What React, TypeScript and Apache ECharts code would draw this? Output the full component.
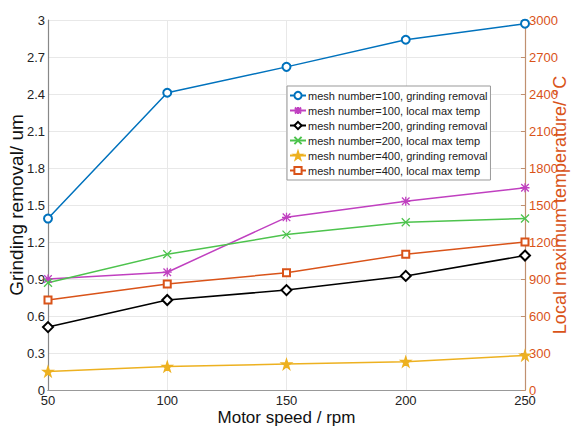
import React, { useEffect, useRef } from "react";
import * as echarts from "echarts";

const speeds = [50, 100, 150, 200, 250];
const removal100 = [1.39, 2.41, 2.62, 2.84, 2.97];
const temp100 = [900, 955, 1400, 1530, 1640];
const removal200 = [0.51, 0.73, 0.81, 0.925, 1.09];
const temp200 = [870, 1100, 1260, 1360, 1390];
const removal400 = [0.15, 0.19, 0.21, 0.23, 0.28];
const temp400 = [730, 860, 950, 1100, 1200];

const seriesNames = [
  "mesh number=100, grinding removal",
  "mesh number=100, local max temp",
  "mesh number=200, grinding removal",
  "mesh number=200, local max temp",
  "mesh number=400, grinding removal",
  "mesh number=400, local max temp",
];

const STAR = "path://M5,0 L6.2,3.6 L10,3.6 L6.9,5.8 L8.1,9.5 L5,7.2 L1.9,9.5 L3.1,5.8 L0,3.6 L3.8,3.6 Z";
const XMARK = "path://M0,0 L10,10 M10,0 L0,10";
const ASTER = "path://M0.8,0.8 L9.2,9.2 M9.2,0.8 L0.8,9.2 M5,0 L5,10 M0,5 L10,5";

export default function App() {
  const ref = useRef<HTMLDivElement>(null);
  useEffect(() => {
    if (!ref.current) return;
    const chart = echarts.init(ref.current, null, { renderer: "svg" });
    const mk = (
      name: string,
      vals: number[],
      color: string,
      symbol: string,
      yAxisIndex: number,
      size = 8
    ) => ({
      name,
      type: "line",
      yAxisIndex,
      data: speeds.map((s, i) => [s, vals[i]]),
      symbol,
      symbolSize: size,
      showAllSymbol: true,
      lineStyle: { color, width: 1.5 },
      itemStyle: { color, borderColor: color, borderWidth: 1.3 },
      emphasis: { disabled: true },
    });
    chart.setOption({
      animation: false,
      backgroundColor: "#fff",
      grid: { left: 48, right: 47, top: 20, bottom: 38, containLabel: false, outerBoundsMode: "none" },
      legend: {
        orient: "vertical",
        left: 287,
        top: 86,
        itemGap: 2,
        itemWidth: 16,
        itemHeight: 9,
        padding: [3, 3, 3, 2],
        borderColor: "#999",
        borderWidth: 1,
        backgroundColor: "#fff",
        textStyle: { fontSize: 11, lineHeight: 13, color: "#222", fontFamily: "Liberation Sans", padding: [0, 0, 0, -3] },
        data: seriesNames,
      },
      xAxis: [
        {
          type: "value",
          min: 50,
          max: 250,
          interval: 50,
          name: "Motor speed / rpm",
          nameLocation: "middle",
          nameGap: 19,
          nameMoveOverlap: false,
          nameTextStyle: { fontSize: 17, color: "#111", fontFamily: "Liberation Sans" },
          axisLine: { show: true, lineStyle: { color: "#888", width: 1 } },
          axisTick: { show: false },
          axisLabel: { fontSize: 13, color: "#222", margin: 4, fontFamily: "Liberation Sans" },
          splitLine: { show: true, lineStyle: { color: "#e8e8e8" } },
        },
        {
          type: "value",
          position: "top",
          min: 50,
          max: 250,
          interval: 50,
          axisLine: { show: true, lineStyle: { color: "#999", width: 1 } },
          axisTick: { show: false },
          axisLabel: { show: false },
          splitLine: { show: false },
        },
      ],
      yAxis: [
        {
          type: "value",
          min: 0,
          max: 3,
          interval: 0.3,
          name: "Grinding removal/ um",
          nameLocation: "middle",
          nameGap: 22,
          nameRotate: 90,
          nameMoveOverlap: false,
          nameTextStyle: { fontSize: 19, color: "#111", fontFamily: "Liberation Sans" },
          axisLine: { show: true, lineStyle: { color: "#888", width: 1.2 } },
          axisTick: { show: false },
          axisLabel: {
            fontSize: 13,
            color: "#222",
            margin: 3,
            fontFamily: "Liberation Sans",
            formatter: (v: number) => String(+v.toFixed(1)),
          },
          splitLine: { show: true, lineStyle: { color: "#e8e8e8" } },
        },
        {
          type: "value",
          min: 0,
          max: 3000,
          interval: 300,
          position: "right",
          name: "Local maximum temperature/ °C",
          nameLocation: "middle",
          nameGap: 26,
          nameRotate: 90,
          nameMoveOverlap: false,
          nameTextStyle: { fontSize: 18, color: "#D95319", fontFamily: "Liberation Sans" },
          axisLine: { show: true, lineStyle: { color: "#c09070", width: 1.2 } },
          axisTick: { show: true, inside: true, length: 4, lineStyle: { color: "#c09070" } },
          axisLabel: {
            fontSize: 13,
            color: "#D95319",
            margin: 4,
            fontFamily: "Liberation Sans",
            formatter: (v: number) => String(v),
          },
          splitLine: { show: false },
        },
      ],
      series: [
        mk(seriesNames[0], removal100, "#0072BD", "emptyCircle", 0, 8),
        mk(seriesNames[1], temp100, "#C040C0", ASTER, 1, 9),
        mk(seriesNames[2], removal200, "#000000", "emptyDiamond", 0, 10),
        mk(seriesNames[3], temp200, "#4DC34D", XMARK, 1, 8),
        mk(seriesNames[4], removal400, "#EDB120", STAR, 0, 10),
        mk(seriesNames[5], temp400, "#D95319", "emptyRect", 1, 7),
      ],
    });
    return () => chart.dispose();
  }, []);
  return <div ref={ref} style={{ position: "absolute", left: 0, top: 0, width: 572, height: 428 }} />;
}
